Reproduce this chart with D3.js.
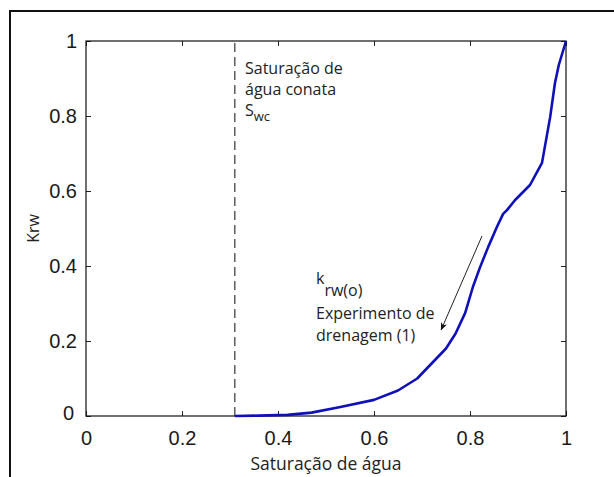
<!DOCTYPE html>
<html>
<head>
<meta charset="utf-8">
<script src="https://cdn.jsdelivr.net/npm/d3@7"></script>
<style>
  html, body { margin: 0; padding: 0; background: #fff; }
  svg { display: block; }
</style>
</head>
<body>
<svg id="chart" width="614" height="477"></svg>
<script>
// Water relative permeability during drainage
const saturation = [0.31, 0.36, 0.42, 0.47, 0.53, 0.60, 0.65, 0.69, 0.72, 0.75, 0.77, 0.79,
                    0.806, 0.821, 0.838, 0.856, 0.869, 0.877, 0.894, 0.925, 0.95, 0.967,
                    0.977, 0.985, 1.0];
const krw = [0, 0.001, 0.003, 0.009, 0.024, 0.043, 0.068, 0.10, 0.14, 0.18, 0.22, 0.275,
             0.344, 0.397, 0.451, 0.504, 0.539, 0.549, 0.576, 0.616, 0.675, 0.797,
             0.888, 0.936, 1.0];
const xTicks = [0, 0.2, 0.4, 0.6, 0.8, 1];
const yTicks = [0, 0.2, 0.4, 0.6, 0.8, 1];
const swc = 0.31;                       // connate water saturation
const arrowFrom = [0.825, 0.48];        // annotation arrow (saturation, krw)
const arrowTo = [0.74, 0.23];

const svg = d3.select("#chart");
const plot = { left: 86, right: 566, top: 41, bottom: 416 };

const x = d3.scaleLinear().domain([0, 1]).range([plot.left, plot.right]);
const y = d3.scaleLinear().domain([0, 1]).range([plot.bottom, plot.top]);

const tickFont = "'Liberation Sans', Arial, sans-serif";
const textFont = "'Open Sans', 'Noto Sans', sans-serif";

// outer frame
svg.append("rect")
  .attr("x", 10).attr("y", 11).attr("width", 650).attr("height", 520)
  .attr("fill", "none").attr("stroke", "#111").attr("stroke-width", 2);

svg.append("defs").append("marker")
  .attr("id", "head")
  .attr("viewBox", "0 0 10 10")
  .attr("refX", 9).attr("refY", 5)
  .attr("markerWidth", 8).attr("markerHeight", 8)
  .attr("markerUnits", "userSpaceOnUse")
  .attr("orient", "auto")
  .append("path").attr("d", "M0,1 L10,5 L0,9 L3,5 Z").attr("fill", "#111");

// axes with inward ticks on all four sides
const tickLen = 5;
const bottomAxis = d3.axisBottom(x).tickValues(xTicks).tickSize(-tickLen).tickSizeOuter(0)
  .tickFormat(d3.format("~g")).tickPadding(15);
const leftAxis = d3.axisLeft(y).tickValues(yTicks).tickSize(-tickLen).tickSizeOuter(0)
  .tickFormat(d3.format("~g")).tickPadding(9);
const topAxis = d3.axisTop(x).tickValues(xTicks).tickSize(-tickLen).tickSizeOuter(0).tickFormat("");
const rightAxis = d3.axisRight(y).tickValues(yTicks).tickSize(-tickLen).tickSizeOuter(0).tickFormat("");

function styleAxis(g) {
  g.select(".domain").remove();
  g.selectAll(".tick line").attr("stroke", "#222").attr("stroke-width", 1);
  g.selectAll("text").attr("fill", "#1a1a1a").style("font-family", tickFont).style("font-size", "20px");
}

svg.append("g").attr("transform", `translate(0,${plot.bottom})`).call(bottomAxis).call(styleAxis);
const yAxisG = svg.append("g").attr("transform", `translate(${plot.left},0)`).call(leftAxis).call(styleAxis);
svg.append("g").attr("transform", `translate(0,${plot.top})`).call(topAxis).call(styleAxis);
svg.append("g").attr("transform", `translate(${plot.right},0)`).call(rightAxis).call(styleAxis);

// the y-axis zero sits slightly below-left of the origin corner
yAxisG.selectAll(".tick").filter(d => d === 0).select("text").attr("dx", -3).attr("dy", "0.15em");

// axes box
svg.append("rect")
  .attr("x", plot.left).attr("y", plot.top)
  .attr("width", plot.right - plot.left).attr("height", plot.bottom - plot.top)
  .attr("fill", "none").attr("stroke", "#111").attr("stroke-width", 1.2);

// connate water saturation marker
svg.append("line")
  .attr("x1", x(swc)).attr("x2", x(swc))
  .attr("y1", y(0)).attr("y2", y(1))
  .attr("stroke", "#444").attr("stroke-width", 1.3)
  .attr("stroke-dasharray", "9,5");

// krw curve
svg.append("path")
  .datum(saturation.map((s, i) => [s, krw[i]]))
  .attr("fill", "none")
  .attr("stroke", "#1010b8")
  .attr("stroke-width", 2.6)
  .attr("stroke-linejoin", "round")
  .attr("d", d3.line().x(d => x(d[0])).y(d => y(d[1])));

// annotation arrow
svg.append("line")
  .attr("x1", x(arrowFrom[0])).attr("y1", y(arrowFrom[1]))
  .attr("x2", x(arrowTo[0])).attr("y2", y(arrowTo[1]))
  .attr("stroke", "#222").attr("stroke-width", 1)
  .attr("marker-end", "url(#head)");

// annotation texts
const ann = svg.append("g").style("font-family", textFont).attr("fill", "#222");

ann.append("text").attr("x", 245).attr("y", 74).style("font-size", "16px").text("Saturação de");
ann.append("text").attr("x", 245).attr("y", 95).style("font-size", "16px").text("água conata");
const swcLabel = ann.append("text").attr("x", 245).attr("y", 116).style("font-size", "16px");
swcLabel.append("tspan").text("S");
swcLabel.append("tspan").attr("dy", 5).style("font-size", "13px").text("wc");

const kLabel = ann.append("text").attr("x", 316).attr("y", 284).style("font-size", "16px");
kLabel.append("tspan").text("k");
kLabel.append("tspan").attr("dy", 12).text("rw(o)");
ann.append("text").attr("x", 316).attr("y", 319).style("font-size", "16px").text("Experimento de");
ann.append("text").attr("x", 316).attr("y", 341).style("font-size", "16px").text("drenagem (1)");

// axis titles
svg.append("text")
  .attr("x", (plot.left + plot.right) / 2).attr("y", 470)
  .attr("text-anchor", "middle")
  .style("font-family", textFont).style("font-size", "17.5px").attr("fill", "#222")
  .text("Saturação de água");

svg.append("text")
  .attr("transform", `translate(39,${(plot.top + plot.bottom) / 2}) rotate(-90)`)
  .attr("text-anchor", "middle")
  .style("font-family", textFont).style("font-size", "16px").attr("fill", "#222")
  .text("Krw");
</script>
</body>
</html>
